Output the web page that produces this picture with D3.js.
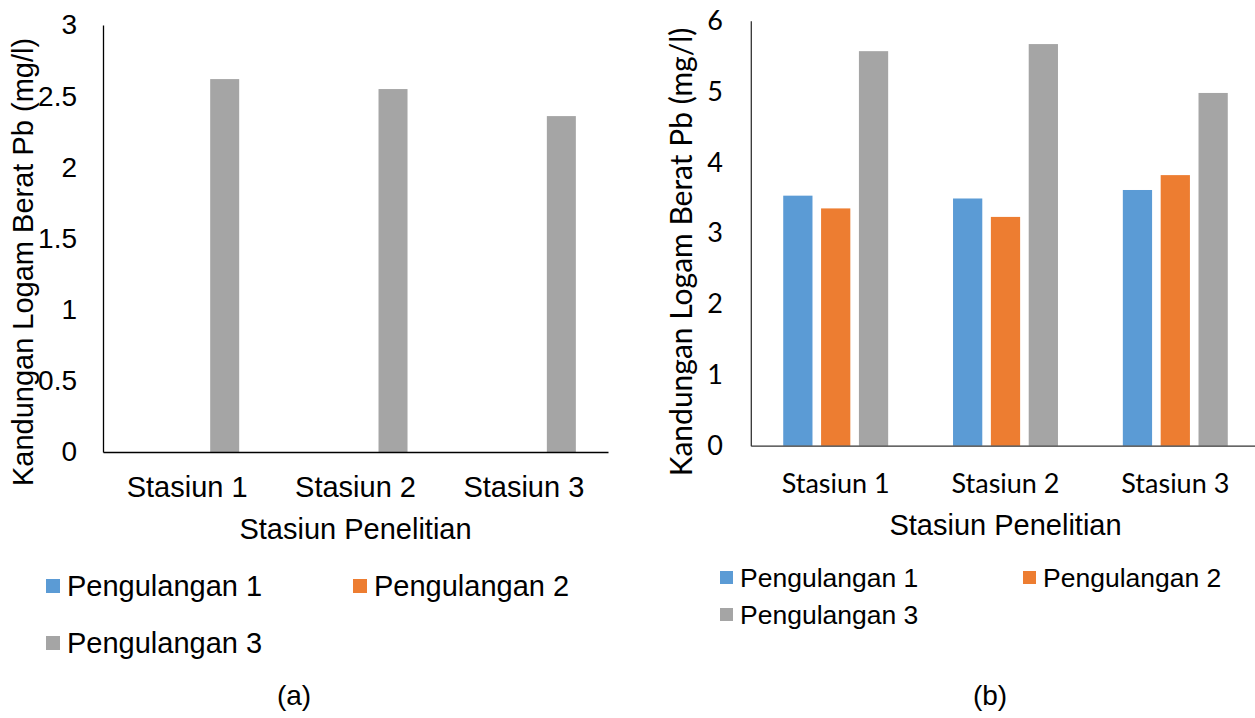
<!DOCTYPE html>
<html>
<head>
<meta charset="utf-8">
<script src="https://cdn.jsdelivr.net/npm/d3@7"></script>
<style>
  body { margin: 0; background: #fff; }
  svg { display: block; }
  .arial { font-family: "Liberation Sans", Arial, sans-serif; fill: #000; }
  .calibri { font-family: Lato, "Open Sans", sans-serif; fill: #000; }
</style>
</head>
<body>
<div id="container"></div>
<script>
// stations and series
let stations = ["Stasiun 1", "Stasiun 2", "Stasiun 3"];
let seriesNames = ["Pengulangan 1", "Pengulangan 2", "Pengulangan 3"];
let seriesColors = ["#5B9BD5", "#ED7D31", "#A5A5A5"];

// chart (a): only pengulangan 3 is shown
let aPeng1 = [0, 0, 0];
let aPeng2 = [0, 0, 0];
let aPeng3 = [2.62, 2.55, 2.36];
let aTicks = [0, 0.5, 1, 1.5, 2, 2.5, 3];

// chart (b)
let bPeng1 = [3.53, 3.49, 3.61];
let bPeng2 = [3.35, 3.23, 3.82];
let bPeng3 = [5.57, 5.67, 4.98];
let bTicks = [0, 1, 2, 3, 4, 5, 6];

let yTitle = "Kandungan Logam Berat Pb (mg/l)";
let xTitle = "Stasiun Penelitian";

let svg = d3.select("#container")
            .append("svg")
              .attr("width", 1255)
              .attr("height", 718);

function drawChart(opt) {
  let rows = stations.map(function(s, i) {
    return {station: s, values: opt.series.map(function(arr, k) { return {k: k, v: arr[i]}; })};
  });

  let x0 = d3.scaleBand()
              .domain(stations)
              .range([opt.left, opt.right])
              .paddingInner(0.382)
              .paddingOuter(0.191);

  let x1 = d3.scaleBand()
              .domain(d3.range(seriesNames.length))
              .range([0, x0.bandwidth()])
              .paddingInner(0.227)
              .paddingOuter(0);

  let y = d3.scaleLinear()
             .domain(opt.domain)
             .range([opt.bottom, opt.top]);

  let g = svg.append("g");

  // bars
  g.selectAll(".grp")
    .data(rows)
    .enter().append("g")
      .attr("transform", function(d) { return "translate(" + x0(d.station) + ",0)"; })
    .selectAll("rect")
    .data(function(d) { return d.values; })
    .enter().append("rect")
      .attr("x", function(d) { return x1(d.k); })
      .attr("width", x1.bandwidth())
      .attr("y", function(d) { return y(d.v); })
      .attr("height", function(d) { return opt.bottom - y(d.v); })
      .attr("fill", function(d) { return seriesColors[d.k]; });

  // y axis
  let yAxis = d3.axisLeft(y)
                 .tickValues(opt.ticks)
                 .tickFormat(function(d) { return String(d); })
                 .tickSize(0)
                 .tickPadding(opt.yPad);
  let yAxisGroup = g.append("g")
                     .attr("transform", "translate(" + opt.left + ",0)")
                     .call(yAxis);
  yAxisGroup.select(".domain").attr("stroke", opt.axisColor).attr("stroke-width", 1.3);
  yAxisGroup.selectAll("text")
    .attr("class", opt.tickFont)
    .attr("font-size", opt.tickSize)
    .attr("font-family", null);

  // x axis
  let xAxis = d3.axisBottom(x0).tickSize(0).tickPadding(opt.xPad);
  let xAxisGroup = g.append("g")
                     .attr("transform", "translate(0," + opt.bottom + ")")
                     .call(xAxis);
  xAxisGroup.select(".domain").attr("stroke", opt.axisColor).attr("stroke-width", 1.3);
  xAxisGroup.selectAll("text")
    .attr("class", opt.tickFont)
    .attr("font-size", opt.catSize)
    .attr("font-family", null);

  // axis titles
  g.append("text")
    .attr("class", opt.yTitleFont)
    .attr("font-size", opt.yTitleSize)
    .attr("text-anchor", "middle")
    .attr("transform", "translate(" + opt.yTitleX + "," + opt.yTitleY + ") rotate(-90)")
    .text(yTitle);

  g.append("text")
    .attr("class", "arial")
    .attr("font-size", 29)
    .attr("text-anchor", "middle")
    .attr("x", (opt.left + opt.right) / 2)
    .attr("y", opt.xTitleY)
    .text(xTitle);

  // legend
  let leg = g.selectAll(".leg")
              .data(seriesNames)
              .enter().append("g")
                .attr("transform", function(d, i) { return "translate(" + opt.legX[i % 2] + "," + opt.legY[Math.floor(i / 2)] + ")"; });
  leg.append("rect")
      .attr("x", 0).attr("y", -opt.legBox - 3)
      .attr("width", opt.legBox).attr("height", opt.legBox)
      .attr("fill", function(d, i) { return seriesColors[i]; });
  leg.append("text")
      .attr("class", "arial")
      .attr("font-size", opt.legSize)
      .attr("x", opt.legGap)
      .attr("y", 0)
      .text(function(d) { return d; });

  // caption
  g.append("text")
    .attr("class", "arial")
    .attr("font-size", 28)
    .attr("text-anchor", "middle")
    .attr("x", opt.capX)
    .attr("y", 705)
    .text(opt.caption);
}

drawChart({
  series: [aPeng1, aPeng2, aPeng3], domain: [0, 3], ticks: aTicks,
  left: 103, right: 608, top: 25, bottom: 452,
  axisColor: "#000", tickFont: "arial", tickSize: 28, catSize: 29,
  yPad: 26, xPad: 24,
  yTitleFont: "arial", yTitleSize: 29, yTitleX: 33, yTitleY: 262,
  xTitleY: 539,
  legX: [46, 353], legY: [596, 653], legGap: 21, legSize: 29, legBox: 14,
  capX: 294, caption: "(a)"
});

drawChart({
  series: [bPeng1, bPeng2, bPeng3], domain: [0, 6], ticks: bTicks,
  left: 750.8, right: 1260.2, top: 20.7, bottom: 445.7,
  axisColor: "#333", tickFont: "calibri", tickSize: 27, catSize: 27,
  yPad: 28, xPad: 28,
  yTitleFont: "calibri", yTitleSize: 30, yTitleX: 692, yTitleY: 252,
  xTitleY: 535,
  legX: [720, 1023], legY: [587, 624], legGap: 20, legSize: 26.5, legBox: 13,
  capX: 990, caption: "(b)"
});
</script>
</body>
</html>
